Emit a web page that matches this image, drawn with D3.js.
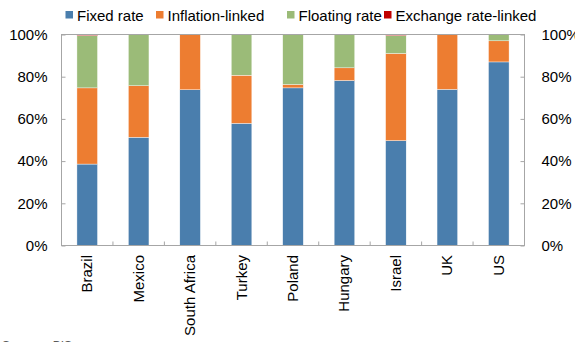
<!DOCTYPE html>
<html><head><meta charset="utf-8">
<script src="https://cdn.jsdelivr.net/npm/d3@7"></script>
<style>body{margin:0;background:#fff}svg{display:block;font-family:"Liberation Sans",Arial,sans-serif}</style>
</head><body><svg id="c" width="575" height="342"></svg>
<script>
const categories = ["Brazil","Mexico","South Africa","Turkey","Poland","Hungary","Israel","UK","US"];
const seriesNames = ["Fixed rate","Inflation-linked","Floating rate","Exchange rate-linked"];
const fixedRate = [38.6, 51.3, 73.8, 57.9, 74.7, 78.2, 49.7, 74.0, 87.0];
const inflationLinked = [36.1, 24.4, 26.2, 22.8, 1.6, 6.0, 41.3, 26.0, 10.0];
const floatingRate = [24.8, 24.3, 0, 19.3, 23.7, 15.8, 8.5, 0, 3.0];
const exchangeRateLinked = [0.5, 0, 0, 0, 0, 0, 0.5, 0, 0];
const yTicks = [0, 20, 40, 60, 80, 100];
const colors = ["#4A7EAD", "#ED7D31", "#9BBB78", "#C00000"];

const svg = d3.select("#c");
const m = {l: 61.5, r: 524.5, t: 34.5, b: 245.5};
const x = d3.scaleBand().domain(categories).range([m.l, m.r]).paddingInner(0.6).paddingOuter(0.3);
const y = d3.scaleLinear().domain([0, 100]).range([m.b, m.t]);

const rows = categories.map((c, i) => ({cat: c, s0: fixedRate[i], s1: inflationLinked[i], s2: floatingRate[i], s3: exchangeRateLinked[i]}));
const stack = d3.stack().keys(["s0","s1","s2","s3"])(rows);

stack.forEach((layer, li) => {
  svg.append("g").selectAll("rect").data(layer).join("rect")
    .attr("x", d => x(d.data.cat))
    .attr("width", x.bandwidth())
    .attr("y", d => y(d[1]))
    .attr("height", d => Math.max(0, y(d[0]) - y(d[1])))
    .attr("fill", colors[li])
    .attr("stroke", d => (d[1] - d[0]) > 0 ? "#ffffff" : "none")
    .attr("stroke-width", 0.4);
});

// frame
svg.append("rect").attr("x", m.l).attr("y", m.t).attr("width", m.r - m.l).attr("height", m.b - m.t)
  .attr("fill", "none").attr("stroke", "#A6A6A6").attr("stroke-width", 1);

// left axis (inside ticks)
const yl = svg.append("g").attr("transform", `translate(${m.l},0)`)
  .call(d3.axisLeft(y).tickValues(yTicks).tickFormat(d => d + "%").tickSizeInner(-4).tickSizeOuter(0).tickPadding(14));
const yr = svg.append("g").attr("transform", `translate(${m.r},0)`)
  .call(d3.axisRight(y).tickValues(yTicks).tickFormat(d => d + "%").tickSizeInner(-4).tickSizeOuter(0).tickPadding(17));
[yl, yr].forEach(g => {
  g.select(".domain").remove();
  g.selectAll("line").attr("stroke", "#A6A6A6");
  g.selectAll("text").attr("font-size", 15).attr("fill", "#000").attr("font-family", '"Liberation Sans",Arial,sans-serif');
});

// category separators at bottom
const step = x.step();
const seps = d3.range(1, categories.length).map(i => m.l + (m.r - m.l) * i / categories.length);
svg.append("g").selectAll("line").data(seps).join("line")
  .attr("x1", d => d).attr("x2", d => d).attr("y1", m.b).attr("y2", m.b - 4)
  .attr("stroke", "#A6A6A6");

// category labels
svg.append("g").selectAll("text").data(categories).join("text")
  .attr("transform", d => `translate(${x(d) + x.bandwidth()/2 + 5},255) rotate(-90)`)
  .attr("text-anchor", "end")
  .attr("font-size", 15)
  .text(d => d);

// legend
const legendX = [65.5, 156, 287, 384];
const lg = svg.append("g");
seriesNames.forEach((n, i) => {
  lg.append("rect").attr("x", legendX[i]).attr("y", 11).attr("width", 7.5).attr("height", 7.5).attr("fill", colors[i]);
  lg.append("text").attr("x", legendX[i] + 11.5).attr("y", 20.5).attr("font-size", 15).text(n);
});

// source (cut off)
svg.append("text").attr("x", 2).attr("y", 350).attr("font-size", 12).attr("fill", "#595959").text("Sources: BIS.");
</script></body></html>
